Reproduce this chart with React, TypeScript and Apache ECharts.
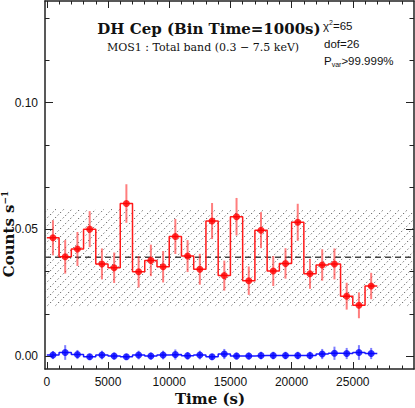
import React, { useEffect, useRef } from 'react';
import * as echarts from 'echarts';

// ---------- data ----------
const BIN_CENTERS = [
  500, 1500, 2500, 3500, 4500, 5500, 6500, 7500, 8500, 9500, 10500, 11500, 12500, 13500,
  14500, 15500, 16500, 17500, 18500, 19500, 20500, 21500, 22500, 23500, 24500, 25500, 26500,
];
const BIN_HALF_WIDTH = 500;

const RED_RATE = [
  0.0467, 0.0392, 0.0423, 0.0501, 0.0364, 0.0349, 0.0602, 0.0333, 0.0378, 0.0353, 0.0472,
  0.0395, 0.0343, 0.0533, 0.0318, 0.055, 0.0298, 0.0497, 0.0336, 0.0366, 0.0528, 0.0325,
  0.036, 0.0364, 0.0237, 0.0201, 0.0277,
];
const RED_ERR = [
  0.0069, 0.0066, 0.0067, 0.0071, 0.0061, 0.006, 0.0076, 0.0062, 0.0062, 0.0062, 0.0069,
  0.0063, 0.0061, 0.0071, 0.0059, 0.0074, 0.0056, 0.0071, 0.0059, 0.006, 0.0073, 0.0059,
  0.0062, 0.0061, 0.0053, 0.0051, 0.0052,
];
const BLUE_RATE = [
  0.0005, 0.0015, 0.0007, -0.0002, 0.0005, 0.0001, -0.0002, 0.0005, 0.0001, 0.0005, 0.0007,
  0.0002, 0.0005, -0.0002, 0.0009, 0.0001, 0.0001, 0.0003, 0.0003, 0.0003, 0.0003, 0.0003,
  0.0009, 0.0012, 0.0011, 0.0015, 0.0011,
];
const BLUE_ERR = [
  0.0016, 0.0029, 0.0018, 0.0012, 0.0017, 0.0014, 0.0012, 0.0017, 0.0014, 0.0017, 0.002,
  0.0015, 0.0017, 0.0012, 0.002, 0.0014, 0.0014, 0.0015, 0.0015, 0.0015, 0.0015, 0.0015,
  0.002, 0.0026, 0.0022, 0.0029, 0.0022,
];

const MEAN_RATE = 0.039;
const BAND_LOW = 0.02;
const BAND_HIGH = 0.058;

const X_MIN = -150;
const X_MAX = 30000;
const Y_MIN = -0.005;
const Y_MAX = 0.14;

const X_MAJOR = [0, 5000, 10000, 15000, 20000, 25000];
const X_MINOR = [
  1000, 2000, 3000, 4000, 6000, 7000, 8000, 9000, 11000, 12000, 13000, 14000, 16000, 17000,
  18000, 19000, 21000, 22000, 23000, 24000, 26000, 27000, 28000, 29000,
];
const Y_MAJOR = [0, 0.05, 0.1];
const Y_MINOR = [0.01667, 0.03333, 0.06667, 0.08333, 0.11667, 0.13333];

const TITLE = 'DH Cep (Bin Time=1000s)';
const SUBTITLE = 'MOS1 : Total band (0.3 \u2212 7.5 keV)';

// ---------- helpers ----------
const AXIS_COLOR = '#222';
const SANS = '"Liberation Sans", Arial, sans-serif';
const SERIF = '"DejaVu Serif", serif';

const stepData = (rates: number[]) =>
  BIN_CENTERS.flatMap((c, i) => [
    [c - BIN_HALF_WIDTH, rates[i]],
    [c + BIN_HALF_WIDTH, rates[i]],
  ]);

const errorBars = (rates: number[], errs: number[], color: string, z: number) => ({
  type: 'custom',
  silent: true,
  z,
  encode: { x: 0, y: 1 },
  data: BIN_CENTERS.map((c, i) => [c, rates[i], errs[i]]),
  renderItem: (_p: any, api: any) => {
    const x = api.value(0);
    const v = api.value(1);
    const e = api.value(2);
    const a = api.coord([x, v - e]);
    const b = api.coord([x, v + e]);
    return {
      type: 'line',
      shape: { x1: a[0], y1: a[1], x2: b[0], y2: b[1] },
      style: { stroke: color, lineWidth: 2 },
    };
  },
});

const xAxisDef = (position: string, ticks: number[], len: number, showLine: boolean, showLabel: boolean) => ({
  type: 'value',
  position,
  min: X_MIN,
  max: X_MAX,
  axisLine: { show: showLine, onZero: false, lineStyle: { color: AXIS_COLOR, width: 1.5 } },
  axisTick: { show: true, inside: true, length: len, customValues: ticks, lineStyle: { color: AXIS_COLOR, width: 1 } },
  axisLabel: showLabel
    ? { show: true, customValues: ticks, margin: 7, fontSize: 12, fontFamily: SANS, color: '#111', formatter: (v: number) => String(Math.round(v)) }
    : { show: false },
  splitLine: { show: false },
});

const yAxisDef = (position: string, ticks: number[], len: number, showLine: boolean, showLabel: boolean) => ({
  type: 'value',
  position,
  min: Y_MIN,
  max: Y_MAX,
  axisLine: { show: showLine, onZero: false, lineStyle: { color: AXIS_COLOR, width: 1.5 } },
  axisTick: { show: true, inside: true, length: len, customValues: ticks, lineStyle: { color: AXIS_COLOR, width: 1 } },
  axisLabel: showLabel
    ? { show: true, customValues: ticks, margin: 7, fontSize: 12, fontFamily: SANS, color: '#111', formatter: (v: number) => v.toFixed(2) }
    : { show: false },
  splitLine: { show: false },
});

const option: any = {
  animation: false,
  backgroundColor: '#fff',
  grid: { left: 45, right: 1, top: 1, bottom: 39, containLabel: false },
  xAxis: [
    xAxisDef('bottom', X_MAJOR, 7, true, true),
    xAxisDef('bottom', X_MINOR, 3.5, false, false),
    xAxisDef('top', X_MAJOR, 7, true, false),
    xAxisDef('top', X_MINOR, 3.5, false, false),
  ],
  yAxis: [
    yAxisDef('left', Y_MAJOR, 8, true, true),
    yAxisDef('left', Y_MINOR, 4.5, false, false),
    yAxisDef('right', Y_MAJOR, 8, true, false),
    yAxisDef('right', Y_MINOR, 4.5, false, false),
  ],
  series: [
    {
      type: 'custom',
      silent: true,
      z: 1,
      data: [[X_MIN, MEAN_RATE]],
      encode: { x: 0, y: 1 },
      renderItem: (_p: any, api: any) => {
        const tl = api.coord([X_MIN, BAND_HIGH]);
        const br = api.coord([X_MAX, BAND_LOW]);
        const L = tl[0], T = tl[1], R = br[0], B = br[1];
        const children: any[] = [];
        const step = 8;
        for (let c = L + T + 3; c < R + B; c += step) {
          const xa = Math.max(L, c - B);
          const xb = Math.min(R, c - T);
          if (xb > xa) {
            children.push({
              type: 'line',
              shape: { x1: xa, y1: c - xa, x2: xb, y2: c - xb },
              style: { stroke: '#4a4a4a', lineWidth: 1, lineDash: [1.2, 2.4] },
            });
          }
        }
        return { type: 'group', children };
      },
    },
    {
      type: 'line',
      silent: true,
      z: 2,
      symbol: 'none',
      data: [
        [X_MIN, MEAN_RATE],
        [X_MAX, MEAN_RATE],
      ],
      lineStyle: { color: '#444', width: 1.5, type: [6, 4] },
    },
    errorBars(RED_RATE, RED_ERR, 'rgba(255,40,40,0.6)', 3),
    {
      type: 'line',
      silent: true,
      z: 4,
      symbol: 'none',
      data: stepData(RED_RATE),
      lineStyle: { color: '#ff1a1a', width: 1.5 },
    },
    {
      type: 'scatter',
      silent: true,
      z: 5,
      symbol: 'circle',
      symbolSize: 7,
      data: BIN_CENTERS.map((c, i) => [c, RED_RATE[i]]),
      itemStyle: { color: '#ff0000' },
    },
    errorBars(BLUE_RATE, BLUE_ERR, 'rgba(40,40,255,0.6)', 3),
    {
      type: 'line',
      silent: true,
      z: 4,
      symbol: 'none',
      data: stepData(BLUE_RATE),
      lineStyle: { color: '#1a1aff', width: 1.5 },
    },
    {
      type: 'scatter',
      silent: true,
      z: 5,
      symbol: 'circle',
      symbolSize: 7,
      data: BIN_CENTERS.map((c, i) => [c, BLUE_RATE[i]]),
      itemStyle: { color: '#0000ff' },
    },
  ],
  graphic: [
    {
      type: 'text',
      x: 209,
      y: 29,
      z: 10,
      style: { text: TITLE, fontFamily: SERIF, fontWeight: 'bold', fontSize: 15, fill: '#111', textAlign: 'center', textVerticalAlign: 'middle' },
    },
    {
      type: 'text',
      x: 203,
      y: 47,
      z: 10,
      style: { text: SUBTITLE, fontFamily: SERIF, fontSize: 11, fill: '#111', textAlign: 'center', textVerticalAlign: 'middle' },
    },
    {
      type: 'text',
      x: 323,
      y: 26,
      z: 10,
      style: {
        text: '{a|\u03c7}{s|2}{a|=65}',
        textAlign: 'left',
        textVerticalAlign: 'middle',
        rich: {
          a: { fontFamily: SANS, fontSize: 11.5, fill: '#111', lineHeight: 14 },
          s: { fontFamily: SANS, fontSize: 7, fill: '#111', lineHeight: 8, verticalAlign: 'top' },
        },
      },
    },
    {
      type: 'text',
      x: 324,
      y: 44,
      z: 10,
      style: { text: 'dof=26', fontFamily: SANS, fontSize: 11.5, fill: '#111', textAlign: 'left', textVerticalAlign: 'middle' },
    },
    {
      type: 'text',
      x: 324,
      y: 61,
      z: 10,
      style: {
        text: '{a|P}{s|var}{a|>99.999%}',
        textAlign: 'left',
        textVerticalAlign: 'middle',
        rich: {
          a: { fontFamily: SANS, fontSize: 11.5, fill: '#111', lineHeight: 14 },
          s: { fontFamily: SANS, fontSize: 7, fill: '#111', lineHeight: 8, verticalAlign: 'bottom' },
        },
      },
    },
    {
      type: 'text',
      x: 210,
      y: 399,
      z: 10,
      style: { text: 'Time (s)', fontFamily: SERIF, fontWeight: 'bold', fontSize: 15, fill: '#111', textAlign: 'center', textVerticalAlign: 'middle' },
    },
    {
      type: 'text',
      x: 9,
      y: 234,
      rotation: Math.PI / 2,
      z: 10,
      style: {
        text: '{a|Counts s}{s|\u22121}',
        textAlign: 'center',
        textVerticalAlign: 'middle',
        rich: {
          a: { fontFamily: SERIF, fontWeight: 'bold', fontSize: 15, fill: '#111', lineHeight: 18 },
          s: { fontFamily: SERIF, fontWeight: 'bold', fontSize: 9, fill: '#111', lineHeight: 10, verticalAlign: 'top' },
        },
      },
    },
  ],
};

export default function App() {
  const ref = useRef<HTMLDivElement>(null);
  useEffect(() => {
    if (!ref.current) return;
    const chart = echarts.init(ref.current, null, { renderer: 'svg' });
    chart.setOption(option);
    return () => chart.dispose();
  }, []);
  return (
    <div
      ref={ref}
      style={{ position: 'fixed', left: 0, top: 0, width: 415, height: 408, background: '#fff' }}
    />
  );
}
